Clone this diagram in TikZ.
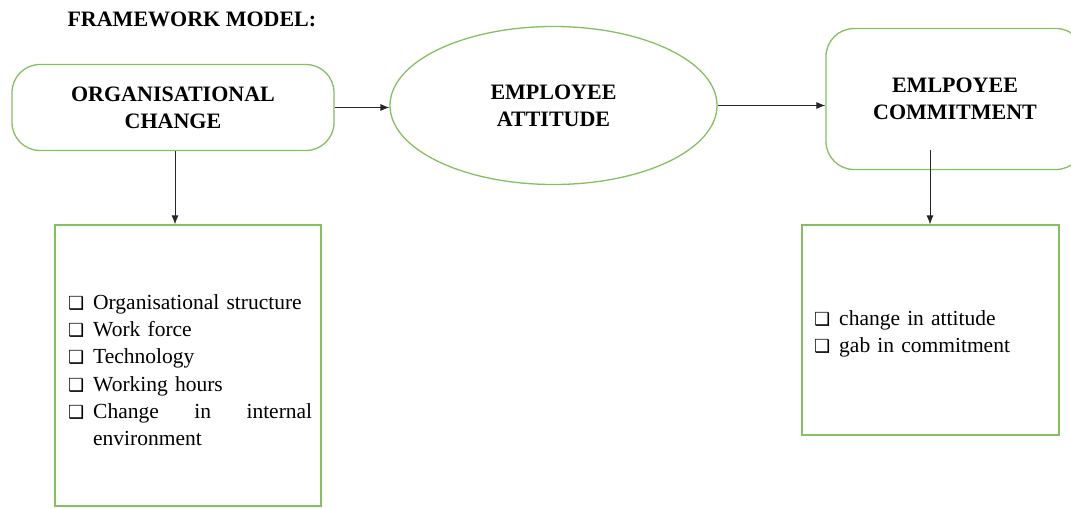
\documentclass[tikz,border=0pt]{standalone}
\usepackage{fontspec}
\setmainfont{Liberation Serif}
\newfontfamily\symfont{DejaVu Sans}
\usetikzlibrary{shapes.geometric,arrows.meta}

\definecolor{boxgreen}{RGB}{132,192,95}
\newcommand{\headfont}{\fontsize{22}{27}\selectfont\bfseries}
\newcommand{\listfont}{\fontsize{21.5}{27.2}\selectfont}
\newcommand{\chk}{{\symfont\fontsize{18}{18}\selectfont ❑}}
\newcommand{\itm}[1]{\par\noindent\hangindent=25pt\hangafter=1\makebox[25pt][l]{\chk}#1}

\begin{document}
\begin{tikzpicture}[x=1pt,y=-1pt,
  roundbox/.style={draw=boxgreen,line width=1.3pt,rounded corners=28pt,align=center,font=\headfont},
  listbox/.style={draw=boxgreen,line width=1.3pt},
  conn/.style={draw=black!85,line width=0.8pt,-{Latex[length=9pt,width=7pt]}}]
\clip (0,0) rectangle (1071,508);

\node[anchor=west,font=\headfont] (title) at (64,19) {FRAMEWORK MODEL:};

\node[roundbox,minimum width=322pt,minimum height=86pt] (orgchange) at (173,107.5) {ORGANISATIONAL\\CHANGE};
\node[draw=boxgreen,line width=1.3pt,ellipse,minimum width=327pt,minimum height=158pt,align=center,font=\headfont] (attitude) at (553.5,105.5) {EMPLOYEE\\ATTITUDE};
\node[roundbox,minimum width=258pt,minimum height=141pt] (commitment) at (955,99) {EMLPOYEE\\COMMITMENT};

\node[listbox,minimum width=266pt,minimum height=281pt] (leftbox) at (188,365.5) {};
\node[listbox,minimum width=257pt,minimum height=210pt] (rightbox) at (930.5,330) {};

% bullet lists
\node[anchor=west,inner sep=0pt,text width=244pt,font=\listfont] (leftlist) at (68,364) {%
  \itm{Organisational structure}
  \itm{Work force}
  \itm{Technology}
  \itm{Working hours}
  \itm{Change\hfill in\hfill internal\break environment}\par};
\node[anchor=west,inner sep=0pt,text width=230pt,font=\listfont] (rightlist) at (814,327.5) {%
  \itm{change in attitude}
  \itm{gab in commitment}\par};

\draw[conn] (orgchange.east) -- (orgchange.east -| attitude.west);
\draw[conn] (attitude.east) -- (attitude.east -| commitment.west);
\draw[conn] ([xshift=2pt]orgchange.south) -- ([xshift=2pt]orgchange.south |- leftbox.north);
\coordinate (cdown) at (930,150);
\draw[conn] (cdown) -- (cdown |- rightbox.north);
\end{tikzpicture}
\end{document}
